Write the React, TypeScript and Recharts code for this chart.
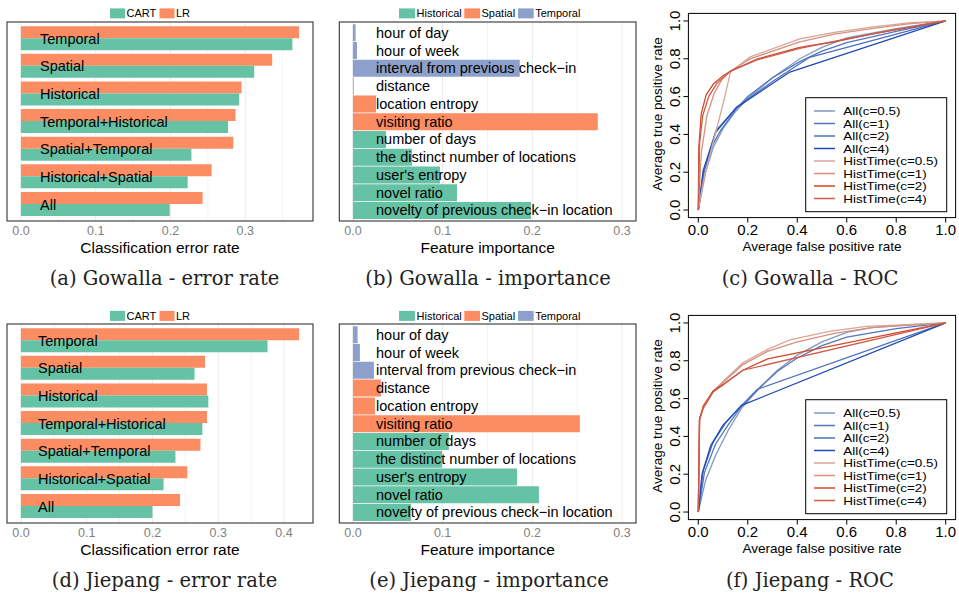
import React from 'react';
import { BarChart, Bar, Cell, XAxis, YAxis, CartesianGrid, LineChart, Line, Label } from 'recharts';

// ---------------- data ----------------
const errorCategories = ['Temporal', 'Spatial', 'Historical', 'Temporal+Historical', 'Spatial+Temporal', 'Historical+Spatial', 'All'];
const gowallaCART = [0.363, 0.312, 0.292, 0.277, 0.228, 0.223, 0.199];
const gowallaLR = [0.372, 0.336, 0.295, 0.287, 0.284, 0.255, 0.243];
const jiepangCART = [0.375, 0.264, 0.285, 0.276, 0.235, 0.217, 0.2];
const jiepangLR = [0.423, 0.28, 0.283, 0.283, 0.273, 0.253, 0.242];

const featureNames = [
  'hour of day',
  'hour of week',
  'interval from previous check\u2212in',
  'distance',
  'location entropy',
  'visiting ratio',
  'number of days',
  'the distinct number of locations',
  "user's entropy",
  'novel ratio',
  'novelty of previous check\u2212in location',
];
const featureGroups = ['Temporal', 'Temporal', 'Temporal', 'Spatial', 'Spatial', 'Spatial', 'Historical', 'Historical', 'Historical', 'Historical', 'Historical'];
const gowallaImportance = [0.003, 0.0045, 0.186, 0.001, 0.0257, 0.273, 0.0368, 0.0658, 0.097, 0.116, 0.1985];
const jiepangImportance = [0.0052, 0.0078, 0.0234, 0.0312, 0.0245, 0.253, 0.107, 0.0993, 0.183, 0.2074, 0.0647];

const errorLegend = ['CART', 'LR'];
const importanceLegend = ['Historical', 'Spatial', 'Temporal'];

const errorTicksGowalla = [0, 0.1, 0.2, 0.3];
const errorTicksJiepang = [0, 0.1, 0.2, 0.3, 0.4];
const errorMinor = [0.05, 0.15, 0.25, 0.35];
const importanceTicks = [0, 0.1, 0.2, 0.3];
const importanceMinor = [0.05, 0.15, 0.25];
const rocTicks = [0, 0.2, 0.4, 0.6, 0.8, 1];

const rocNames = ['All(c=0.5)', 'All(c=1)', 'All(c=2)', 'All(c=4)', 'HistTime(c=0.5)', 'HistTime(c=1)', 'HistTime(c=2)', 'HistTime(c=4)'];

// Gowalla ROC curves [fpr, tpr]
const gAll05 = [[0, 0], [0.03, 0.2], [0.06, 0.33], [0.1, 0.43], [0.15, 0.52], [0.2, 0.59], [0.3, 0.7], [0.41, 0.8], [0.5, 0.86], [0.6, 0.91], [0.8, 0.96], [1, 1]];
const gAll1 = [[0, 0], [0.025, 0.21], [0.06, 0.35], [0.09, 0.42], [0.15, 0.53], [0.2, 0.6], [0.3, 0.7], [0.41, 0.785], [0.5, 0.84], [0.6, 0.885], [0.8, 0.945], [1, 1]];
const gAll2 = [[0, 0], [0.02, 0.2], [0.07, 0.41], [0.155, 0.545], [0.3, 0.68], [0.45, 0.808], [1, 1]];
const gAll4 = [[0, 0], [0.02, 0.21], [0.072, 0.42], [0.155, 0.543], [0.37, 0.73], [1, 1]];
const gHT05 = [[0, 0], [0.02, 0.15], [0.06, 0.36], [0.1, 0.56], [0.13, 0.73], [0.21, 0.81], [0.41, 0.905], [0.55, 0.94], [0.7, 0.967], [0.85, 0.99], [1, 1]];
const gHT1 = [[0, 0], [0.012, 0.3], [0.035, 0.5], [0.065, 0.62], [0.095, 0.69], [0.13, 0.735], [0.21, 0.8], [0.41, 0.89], [0.55, 0.93], [0.7, 0.96], [0.85, 0.985], [1, 1]];
const gHT2 = [[0, 0], [0.002, 0.33], [0.012, 0.51], [0.032, 0.61], [0.06, 0.665], [0.1, 0.71], [0.135, 0.737], [0.24, 0.8], [0.41, 0.86], [0.55, 0.89], [0.7, 0.93], [0.85, 0.965], [1, 1]];
const gHT4 = [[0, 0], [0.005, 0.35], [0.018, 0.5], [0.042, 0.6], [0.075, 0.67], [0.13, 0.735], [0.24, 0.795], [0.41, 0.855], [0.6, 0.905], [0.8, 0.955], [1, 1]];

// Jiepang ROC curves [fpr, tpr]
const jAll05 = [[0, 0], [0.03, 0.17], [0.07, 0.3], [0.12, 0.43], [0.175, 0.55], [0.25, 0.66], [0.32, 0.75], [0.4, 0.83], [0.5, 0.9], [0.6, 0.95], [0.7, 0.975], [0.85, 0.99], [1, 1]];
const jAll1 = [[0, 0], [0.025, 0.21], [0.07, 0.36], [0.12, 0.46], [0.175, 0.56], [0.25, 0.66], [0.32, 0.745], [0.4, 0.815], [0.5, 0.88], [0.6, 0.925], [0.8, 0.97], [1, 1]];
const jAll2 = [[0, 0], [0.02, 0.22], [0.06, 0.37], [0.11, 0.47], [0.175, 0.564], [0.24, 0.65], [1, 1]];
const jAll4 = [[0, 0], [0.015, 0.2], [0.05, 0.35], [0.1, 0.46], [0.175, 0.564], [1, 1]];
const jHT05 = [[0, 0], [0.005, 0.48], [0.02, 0.55], [0.06, 0.635], [0.1, 0.69], [0.18, 0.79], [0.28, 0.86], [0.37, 0.91], [0.53, 0.955], [0.68, 0.982], [1, 1]];
const jHT1 = [[0, 0], [0.005, 0.49], [0.02, 0.56], [0.06, 0.64], [0.1, 0.685], [0.18, 0.78], [0.28, 0.85], [0.4, 0.9], [0.55, 0.945], [0.7, 0.975], [1, 1]];
const jHT2 = [[0, 0], [0.005, 0.49], [0.02, 0.56], [0.06, 0.64], [0.1, 0.675], [0.18, 0.75], [0.28, 0.81], [1, 1]];
const jHT4 = [[0, 0], [0.005, 0.49], [0.02, 0.55], [0.06, 0.635], [0.1, 0.672], [0.18, 0.75], [1, 1]];

const gowallaRoc = [gAll05, gAll1, gAll2, gAll4, gHT05, gHT1, gHT2, gHT4];
const jiepangRoc = [jAll05, jAll1, jAll2, jAll4, jHT05, jHT1, jHT2, jHT4];

// ---------------- styles ----------------
const SANS = '"Liberation Sans", Arial, Helvetica, sans-serif';
const SERIF = '"DejaVu Serif", "Liberation Serif", serif';
const COLORS: Record<string, string> = {
  CART: '#66c2a5',
  LR: '#fc8d62',
  Historical: '#66c2a5',
  Spatial: '#fc8d62',
  Temporal: '#8da0cb',
};
const ROC_COLORS = ['#8099c4', '#5475bc', '#4c70c0', '#1f4cb5', '#d6a697', '#d8907f', '#d24a26', '#cd5c4b'];

const errorRows = (cart: number[], lr: number[]) =>
  errorCategories.map((name, i) => ({ name, CART: cart[i], LR: lr[i] }));
const importanceRows = (vals: number[]) =>
  featureNames.map((name, i) => ({ name, group: featureGroups[i], value: vals[i] }));
const toPoints = (arr: number[][]) => arr.map(([x, y]) => ({ x, y }));

// ---------------- tick renderers ----------------
const GrayTick = (props: any) => {
  const { x, y, payload } = props;
  return (
    <text x={x} y={y} dy="0.71em" textAnchor="middle" fill="#7f7f7f" fontSize={12.5} fontFamily={SANS}>
      {Number(payload.value).toFixed(1)}
    </text>
  );
};
const InsideLabelTick = (props: any) => {
  const { x, y, payload } = props;
  return (
    <text x={x} y={y} dy="0.355em" textAnchor="start" fill="#000" fontSize={14.5} fontFamily={SANS}>
      {payload.value}
    </text>
  );
};
const RocXTick = (props: any) => {
  const { x, y, payload } = props;
  return (
    <text x={x} y={y} dy="0.71em" textAnchor="middle" fill="#000" fontSize={15} fontFamily={SANS}>
      {Number(payload.value).toFixed(1)}
    </text>
  );
};
const RocYTick = (props: any) => {
  const { x, y, payload } = props;
  return (
    <text x={x} y={y} textAnchor="middle" transform={`rotate(-90 ${x} ${y})`} fill="#000" fontSize={15} fontFamily={SANS}>
      {Number(payload.value).toFixed(1)}
    </text>
  );
};
const RocYTitle = (props: any) => {
  const vb = props.viewBox || {};
  const x = (vb.x ?? 0) + (vb.width ?? 0) - 26;
  const y = (vb.y ?? 0) + (vb.height ?? 0) / 2 - 1.5;
  return (
    <text x={x} y={y} textAnchor="middle" transform={`rotate(-90 ${x} ${y})`} fill="#000" fontSize={13.5} fontFamily={SANS}>
      Average true positive rate
    </text>
  );
};

// ---------------- charts ----------------
function ErrorChart({ rows, domain, ticks, labelMargin }: any) {
  return (
    <BarChart
      width={320}
      height={262}
      data={rows}
      layout="vertical"
      margin={{ top: 22, right: 7, bottom: 22, left: 7 }}
      barCategoryGap="5%"
      barGap={0}
    >
      <CartesianGrid horizontal={false} verticalValues={errorMinor} stroke="#f3f3f3" />
      <CartesianGrid horizontal={false} verticalValues={ticks} stroke="#ebebeb" />
      <XAxis
        type="number"
        domain={domain}
        ticks={ticks}
        height={19}
        interval={0}
        allowDataOverflow
        axisLine={false}
        tickLine={false}
        tickSize={0}
        tickMargin={5}
        tick={GrayTick}
      >
        <Label value="Classification error rate" position="bottom" offset={1.5} fill="#000" fontSize={15.5} fontFamily={SANS} />
      </XAxis>
      <Bar dataKey="LR" fill={COLORS.LR} isAnimationActive={false} />
      <Bar dataKey="CART" fill={COLORS.CART} isAnimationActive={false} />
      <YAxis
        type="category"
        dataKey="name"
        width={1}
        mirror
        interval={0}
        axisLine={false}
        tickLine={false}
        tickSize={0}
        tickMargin={labelMargin}
        padding={{ top: 2.8, bottom: 2.8 }}
        tick={InsideLabelTick}
      />
    </BarChart>
  );
}

function ImportanceChart({ rows }: any) {
  return (
    <BarChart
      width={320}
      height={262}
      data={rows}
      layout="vertical"
      margin={{ top: 22, right: 4, bottom: 22, left: 19.3 }}
      barCategoryGap="3%"
    >
      <CartesianGrid horizontal={false} verticalValues={importanceMinor} stroke="#f3f3f3" />
      <CartesianGrid horizontal={false} verticalValues={importanceTicks} stroke="#ebebeb" />
      <XAxis
        type="number"
        domain={[-0.0152, 0.3156]}
        ticks={importanceTicks}
        height={19}
        interval={0}
        allowDataOverflow
        axisLine={false}
        tickLine={false}
        tickSize={0}
        tickMargin={5}
        tick={GrayTick}
      >
        <Label value="Feature importance" position="bottom" offset={1.5} fill="#000" fontSize={15.5} fontFamily={SANS} />
      </XAxis>
      <Bar dataKey="value" isAnimationActive={false}>
        {rows.map((r: any, i: number) => (
          <Cell key={i} fill={COLORS[r.group]} />
        ))}
      </Bar>
      <YAxis
        type="category"
        dataKey="name"
        width={1}
        mirror
        interval={0}
        axisLine={false}
        tickLine={false}
        tickSize={0}
        tickMargin={36.7}
        padding={{ top: 1.8, bottom: 1.8 }}
        tick={InsideLabelTick}
      />
    </BarChart>
  );
}

function RocChart({ series }: any) {
  return (
    <LineChart width={319} height={262} margin={{ top: 13.4, right: 3.4, bottom: 21.4, left: 8.4 }}>
      <XAxis
        type="number"
        dataKey="x"
        domain={[-0.04, 1.04]}
        ticks={rocTicks}
        height={23}
        interval={0}
        allowDataOverflow
        axisLine={false}
        tickSize={5}
        tickMargin={1.5}
        tickLine={{ stroke: '#000' }}
        tick={RocXTick}
      >
        <Label value="Average false positive rate" position="bottom" offset={0.5} fill="#000" fontSize={13.5} fontFamily={SANS} />
      </XAxis>
      <YAxis
        type="number"
        domain={[-0.04, 1.04]}
        ticks={rocTicks}
        width={40}
        interval={0}
        allowDataOverflow
        axisLine={false}
        tickSize={5}
        tickMargin={3.4}
        tickLine={{ stroke: '#000' }}
        tick={RocYTick}
      >
        <Label content={RocYTitle} />
      </YAxis>
      {series.map((pts: number[][], i: number) => (
        <Line
          key={rocNames[i]}
          name={rocNames[i]}
          data={toPoints(pts)}
          dataKey="y"
          type="linear"
          stroke={ROC_COLORS[i]}
          strokeWidth={1.3}
          dot={false}
          isAnimationActive={false}
        />
      ))}
    </LineChart>
  );
}

// ---------------- overlay pieces (legends, frames, captions) ----------------
function BarLegend({ items, xs, dy }: any) {
  return (
    <g>
      {items.map((name: string, i: number) => (
        <g key={name}>
          <rect x={xs[i][0]} y={8.4 + dy} width={xs[i][1]} height={10} fill={COLORS[name]} />
          <text x={xs[i][0] + xs[i][1] + 1.5} y={17.3 + dy} fontSize={11} fontFamily={SANS} fill="#000">
            {name}
          </text>
        </g>
      ))}
    </g>
  );
}

function RocLegend({ dy }: any) {
  return (
    <g>
      <rect x={805.7} y={97.7 + dy} width={141} height={114} fill="#fff" stroke="#000" strokeWidth={1} />
      {rocNames.map((name, i) => {
        const cy = 111 + i * 12.5 + dy;
        return (
          <g key={name}>
            <line x1={814} x2={835} y1={cy} y2={cy} stroke={ROC_COLORS[i]} strokeWidth={1.5} />
            <text transform={`translate(843.3 ${cy + 4}) scale(1.2 1)`} x={0} y={0} fontSize={11.2} fontFamily={SANS} fill="#000">
              {name}
            </text>
          </g>
        );
      })}
    </g>
  );
}

const captions = [
  ['(a) Gowalla - error rate', 164.5, 285],
  ['(b) Gowalla - importance', 488, 285],
  ['(c) Gowalla - ROC', 810, 285],
  ['(d) Jiepang - error rate', 164.5, 587],
  ['(e) Jiepang - importance', 489, 587],
  ['(f) Jiepang - ROC', 810, 587],
];

export default function App() {
  const box = (left: number, top: number, child: any) => (
    <div style={{ position: 'absolute', left, top }}>{child}</div>
  );
  return (
    <div style={{ position: 'absolute', left: 0, top: 0, width: 959, height: 596, background: '#fff', overflow: 'hidden' }}>
      {box(0, 0, <ErrorChart rows={errorRows(gowallaCART, gowallaLR)} domain={[-0.0186, 0.3906]} ticks={errorTicksGowalla} labelMargin={33} />)}
      {box(0, 302, <ErrorChart rows={errorRows(jiepangCART, jiepangLR)} domain={[-0.02115, 0.44415]} ticks={errorTicksJiepang} labelMargin={31} />)}
      {box(320, 0, <ImportanceChart rows={importanceRows(gowallaImportance)} />)}
      {box(320, 302, <ImportanceChart rows={importanceRows(jiepangImportance)} />)}
      {box(640, 0, <RocChart series={gowallaRoc} />)}
      {box(640, 302, <RocChart series={jiepangRoc} />)}
      <svg width={959} height={596} style={{ position: 'absolute', left: 0, top: 0, pointerEvents: 'none' }}>
        {/* panel frames */}
        <rect x={7} y={22} width={306} height={199} fill="none" stroke="#333" strokeWidth={1.1} />
        <rect x={7} y={324} width={306} height={199} fill="none" stroke="#333" strokeWidth={1.1} />
        <rect x={339.3} y={22} width={296.7} height={199} fill="none" stroke="#333" strokeWidth={1.1} />
        <rect x={339.3} y={324} width={296.7} height={199} fill="none" stroke="#333" strokeWidth={1.1} />
        <rect x={688.4} y={13.4} width={267.2} height={204.2} fill="none" stroke="#000" strokeWidth={1} />
        <rect x={688.4} y={315.4} width={267.2} height={204.2} fill="none" stroke="#000" strokeWidth={1} />
        {/* legends */}
        <BarLegend items={errorLegend} xs={[[110, 15], [159.5, 15]]} dy={0} />
        <BarLegend items={errorLegend} xs={[[110, 15], [159.5, 15]]} dy={302.5} />
        <BarLegend items={importanceLegend} xs={[[399, 16], [464.3, 15.7], [518, 15.7]]} dy={0} />
        <BarLegend items={importanceLegend} xs={[[399, 16], [464.3, 15.7], [518, 15.7]]} dy={302.5} />
        <RocLegend dy={0} />
        <RocLegend dy={302} />
        {/* captions */}
        {captions.map(([t, x, y]) => (
          <text key={t as string} x={x as number} y={y as number} textAnchor="middle" fontSize={19.5} fontFamily={SERIF} fill="#222">
            {t}
          </text>
        ))}
      </svg>
    </div>
  );
}
